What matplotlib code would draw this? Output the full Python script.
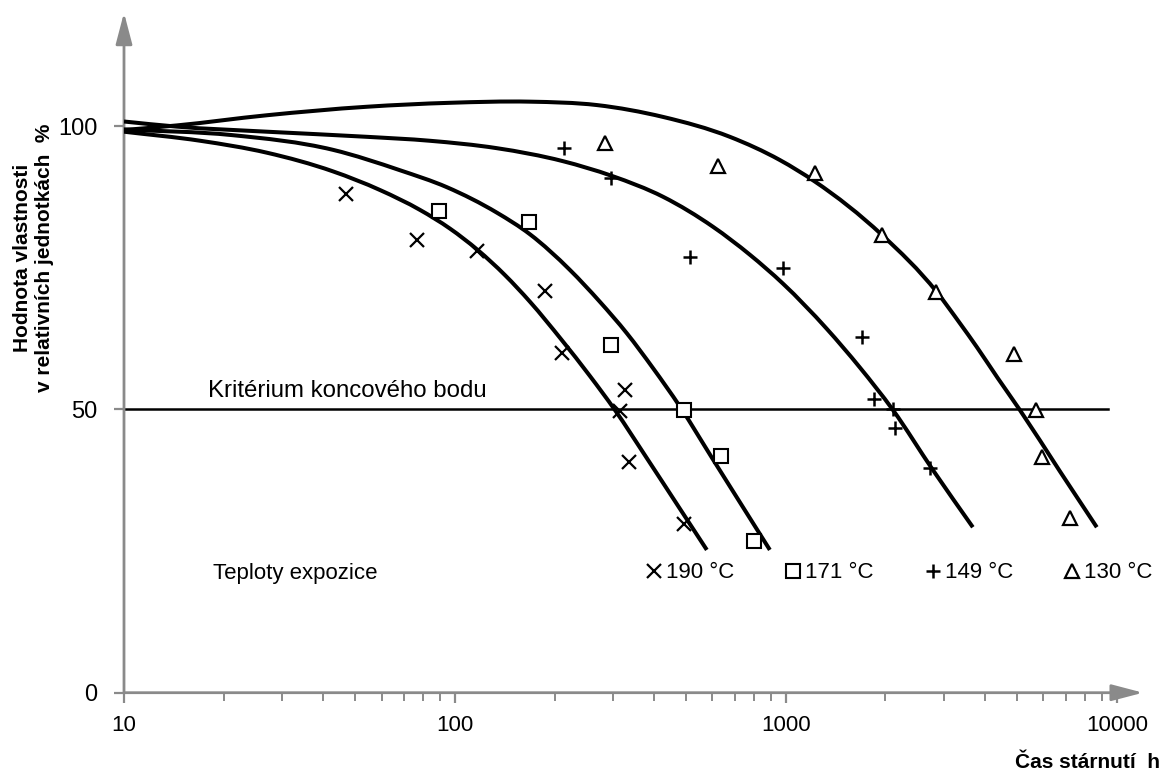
import matplotlib
matplotlib.use("Agg")
import numpy as np
import matplotlib.pyplot as plt
from matplotlib.path import Path
from matplotlib.patches import PathPatch
from matplotlib.ticker import FixedLocator, NullFormatter, LogLocator

# measured points: ageing time [h] and property value [% of initial]
t_190 = [47, 77, 117, 187, 210, 326, 315, 335, 493]
v_190 = [88.0, 79.9, 77.9, 70.9, 60.0, 53.4, 49.8, 40.8, 29.7]

t_171 = [89.5, 168, 296, 493, 639, 802]
v_171 = [85.0, 83.0, 61.4, 49.9, 41.8, 26.8]

t_149 = [213, 296, 513, 977, 1700, 1850, 2110, 2135, 2720]
v_149 = [96.1, 90.9, 76.9, 75.0, 62.8, 51.9, 50.0, 46.8, 39.6]

t_130 = [284, 623, 1224, 1946, 2852, 4895, 5692, 5946, 7244]
v_130 = [97.0, 92.9, 91.8, 80.8, 70.7, 59.7, 49.9, 41.6, 30.8]

# fitted ageing curves
ct_190 = [10, 17.0, 27.0, 42.8, 59.4, 78.4, 96.6, 117.3, 141.6, 168.5, 210.5,
          255.7, 304.3, 380, 478, 577]
cv_190 = [99.0, 97.4, 95.3, 92.0, 88.7, 85.2, 81.9, 78.1, 73.7, 69.0, 62.2,
          55.9, 49.9, 41.4, 32.5, 25.2]

ct_171 = [10, 21.2, 42.8, 68.2, 94.6, 134, 168.5, 222.6, 274, 331, 396.5,
          478.4, 601.7, 894.6]
cv_171 = [99.4, 98.4, 95.8, 92.2, 89.2, 84.7, 80.9, 74.6, 69.0, 63.4, 57.3,
          50.5, 41.2, 25.2]

ct_149 = [10, 14.4, 27.0, 54.1, 84.0, 133.6, 212, 298, 426, 603, 778, 979.5,
          1330, 1673, 2106, 2782, 3673]
cv_149 = [100.8, 99.9, 99.0, 98.1, 97.4, 96.1, 93.8, 91.2, 87.5, 82.2, 77.3,
          72.2, 64.2, 57.4, 49.9, 39.3, 29.2]

ct_130 = [10, 14.4, 27.0, 54.1, 96.6, 168.5, 268.5, 426, 677, 959, 1224, 1950,
          2858, 3356, 3776, 4370, 5093, 6726, 8701]
cv_130 = [99.3, 100.1, 101.9, 103.4, 104.1, 104.3, 103.7, 101.6, 98.1, 94.0,
          90.2, 80.8, 70.7, 65.2, 61.0, 55.5, 49.9, 39.1, 29.2]

# end-point criterion
crit_t = [10, 9400]
crit_v = [50, 50]

series_labels = ["190 °C", "171 °C", "149 °C", "130 °C"]
x_ticks = [10, 100, 1000, 10000]
x_ticklabels = ["10", "100", "1000", "10000"]
y_ticks = [0, 50, 100]

plt.rcParams["font.family"] = ["Liberation Sans", "DejaVu Sans"]

AXIS_GREY = "#8a8a8a"
W, H = 1163, 771


def smooth_curve(t, v):
    """Cubic Hermite Bezier path through the points, in log-time."""
    x = np.log10(t)
    y = np.asarray(v, dtype=float)
    dx = np.diff(x)
    s = np.diff(y) / dx
    m = np.empty_like(y)
    m[0], m[-1] = s[0], s[-1]
    m[1:-1] = (dx[:-1] * s[1:] + dx[1:] * s[:-1]) / (dx[:-1] + dx[1:])
    verts = [(x[0], y[0])]
    codes = [Path.MOVETO]
    for i in range(len(x) - 1):
        h = dx[i] / 3
        verts += [(x[i] + h, y[i] + h * m[i]),
                  (x[i + 1] - h, y[i + 1] - h * m[i + 1]),
                  (x[i + 1], y[i + 1])]
        codes += [Path.CURVE4] * 3
    verts = np.array(verts)
    verts[:, 0] = 10 ** verts[:, 0]
    return Path(verts, codes)


fig = plt.figure(figsize=(W / 100, H / 100), dpi=100)
ax = fig.add_axes([124 / W, (H - 692.7) / H, 1019 / W, 680 / H])
ax.set_xscale("log")
ax.set_xlim(10, 12000)
ax.set_ylim(0, 120)

for s in ax.spines.values():
    s.set_visible(False)

# axes drawn as arrows
arrow = dict(arrowstyle="-|>,head_length=1.6,head_width=0.42", color=AXIS_GREY,
             lw=2.0, mutation_scale=12, shrinkA=0, shrinkB=0)
ax.annotate("", xy=(0, 1), xytext=(0, 0), xycoords="axes fraction",
            arrowprops=arrow, annotation_clip=False)
ax.annotate("", xy=(1, 0), xytext=(0, 0), xycoords="axes fraction",
            arrowprops=arrow, annotation_clip=False)

ax.xaxis.set_major_locator(FixedLocator(x_ticks))
ax.set_xticklabels(x_ticklabels)
ax.xaxis.set_minor_locator(LogLocator(base=10, subs=range(2, 10)))
ax.xaxis.set_minor_formatter(NullFormatter())
ax.set_yticks(y_ticks)
ax.tick_params(axis="x", which="major", direction="out", length=7, width=1.6,
               color=AXIS_GREY, labelsize=16, pad=9)
ax.tick_params(axis="x", which="minor", direction="out", length=6, width=1.4,
               color=AXIS_GREY)
ax.tick_params(axis="y", direction="out", length=7, width=1.6,
               color=AXIS_GREY, labelsize=17, pad=12)

# curves
for ct, cv in [(ct_190, cv_190), (ct_171, cv_171), (ct_149, cv_149), (ct_130, cv_130)]:
    ax.add_patch(PathPatch(smooth_curve(ct, cv), fill=False, ec="black",
                           lw=2.9, capstyle="butt", zorder=3))

ax.plot(crit_t, crit_v, color="black", lw=1.8, zorder=2)
ax.text(17.9, 52.2, "Kritérium koncového bodu", fontsize=17.3,
        va="baseline", ha="left")

# measured points
mk = dict(linestyle="none", color="black", zorder=4)
h1, = ax.plot(t_190, v_190, marker="x", ms=10, mew=1.6, **mk)
h2, = ax.plot(t_171, v_171, marker="s", ms=9.5, mew=1.5, mfc="white", **mk)
h3, = ax.plot(t_149, v_149, marker="+", ms=10.5, mew=1.8, **mk)
h4, = ax.plot(t_130, v_130, marker="^", ms=10, mew=1.6, mfc="white", **mk)

fig.text(213 / W, 1 - 573 / H, "Teploty expozice", fontsize=16,
         ha="left", va="center")
fig.legend([h1, h2, h3, h4], series_labels, loc="center left",
           bbox_to_anchor=(636 / W, 1 - 573 / H), ncol=4, frameon=False,
           borderpad=0, handlelength=0.6, handletextpad=0.25,
           columnspacing=2.35, prop={"size": 16})

fig.text(33.5 / W, 1 - 258 / H, "Hodnota vlastnosti\nv relativních jednotkách  %",
         rotation=90, ha="center", va="center", multialignment="center",
         fontsize=15, fontweight="bold", linespacing=1.2)
fig.text(1160 / W, 1 - 763 / H, "Čas stárnutí  h", ha="right", va="center",
         fontsize=15, fontweight="bold")

fig.savefig("out.png", dpi=100)
